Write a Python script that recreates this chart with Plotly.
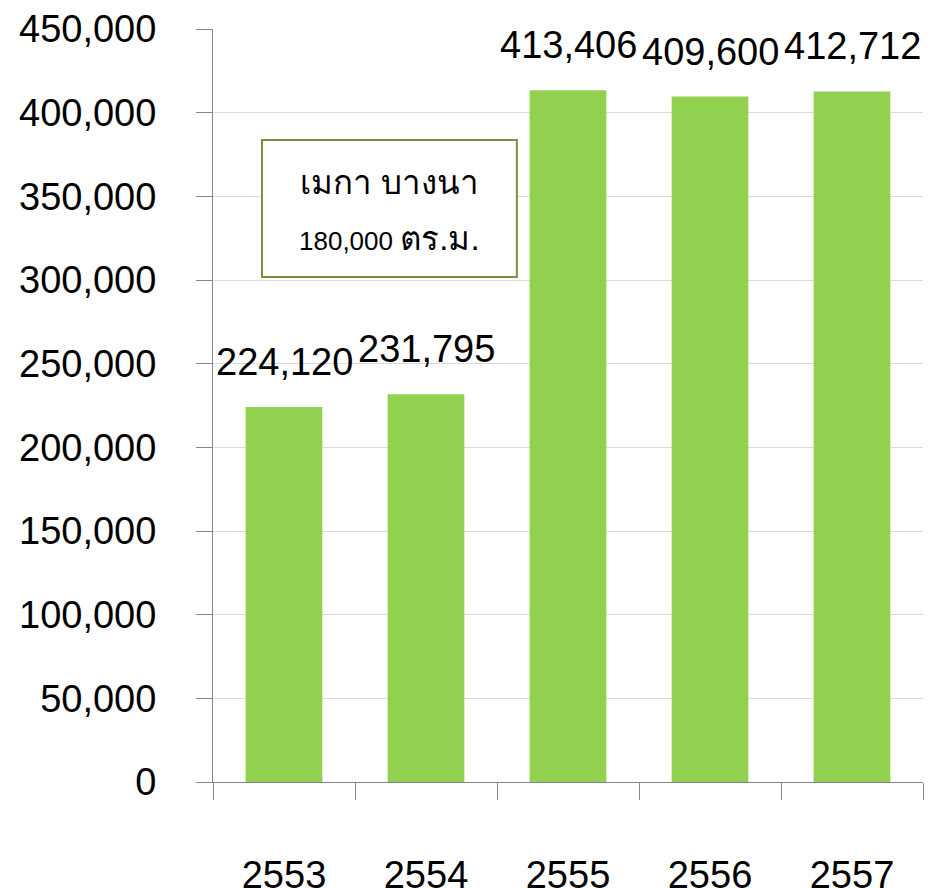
import plotly.graph_objects as go

years = ["2553", "2554", "2555", "2556", "2557"]
area_values = [224120, 231795, 413406, 409600, 412712]
box_title = "เมกา บางนา"
box_number = "180,000"
box_unit = "ตร.ม."

FONT = "Arial, 'Liberation Sans', sans-serif"
AXIS_COLOR = "#868686"

fig = go.Figure()
fig.add_trace(go.Bar(
    x=years, y=area_values,
    marker=dict(color="#92D050", line=dict(width=0)),
    width=0.54,
    hoverinfo="x+y",
))

for i, v in enumerate(area_values):
    fig.add_annotation(
        x=i, y=v, xref="x", yref="y",
        text=f"{v:,}", showarrow=False,
        xanchor="center", yanchor="bottom", yshift=22,
        font=dict(family=FONT, size=38, color="#000000"),
    )

# text box
fig.add_shape(type="rect", xref="paper", yref="paper",
              x0=0.069, x1=0.428, y0=0.6707, y1=0.8526,
              line=dict(color="#77933C", width=2), fillcolor="white", layer="above")
fig.add_annotation(xref="paper", yref="paper", x=0.2486, y=0.7955,
                   xanchor="center", yanchor="middle",
                   text=box_title, showarrow=False,
                   font=dict(family=FONT, size=33, color="#000000"))
fig.add_annotation(xref="paper", yref="paper", x=0.2486, y=0.7224,
                   xanchor="center", yanchor="middle",
                   text=f"{box_number} <span style='font-size:33px'>{box_unit}</span>",
                   showarrow=False,
                   font=dict(family=FONT, size=26, color="#000000"))

fig.update_layout(
    width=939, height=880,
    margin=dict(l=205, r=24, t=21, b=106),
    plot_bgcolor="white", paper_bgcolor="white",
    showlegend=False,
    font=dict(family=FONT, size=38, color="#000000"),
    xaxis=dict(
        type="category", range=[-0.5, len(years) - 0.5],
        showline=True, linecolor=AXIS_COLOR, linewidth=1,
        ticks="outside", tickson="boundaries", ticklen=17, tickcolor=AXIS_COLOR,
        ticklabelstandoff=59, tickangle=0, automargin=False,
        tickfont=dict(family=FONT, size=38, color="#000000"),
        showgrid=False,
    ),
    yaxis=dict(
        range=[0, 450000], dtick=50000, tickformat=",d",
        showline=True, linecolor=AXIS_COLOR, linewidth=1,
        ticks="outside", ticklen=16, tickcolor=AXIS_COLOR,
        ticklabelstandoff=32, automargin=False,
        showgrid=True, gridcolor="#D9D9D9", gridwidth=1,
        zeroline=False,
        tickfont=dict(family=FONT, size=38, color="#000000"),
    ),
)

fig.write_html("out.html")
